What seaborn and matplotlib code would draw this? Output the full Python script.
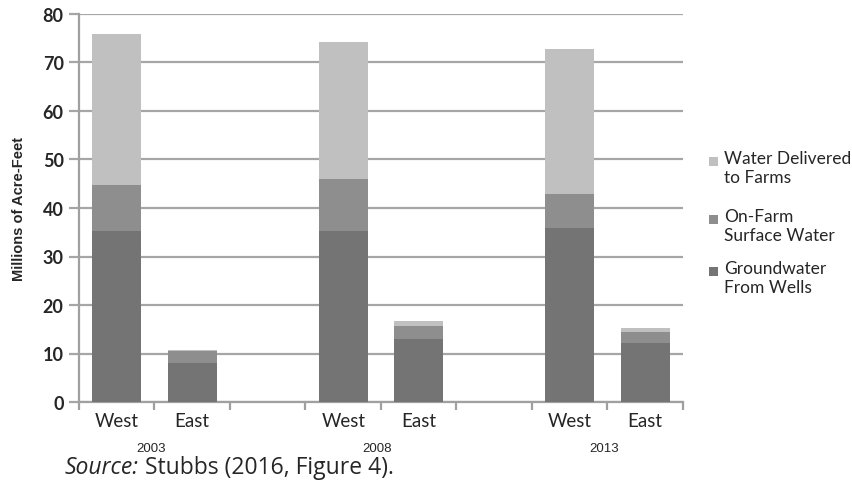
import numpy as np
import pandas as pd
import matplotlib
matplotlib.use("Agg")
import matplotlib.pyplot as plt
import matplotlib.transforms as mtransforms
from matplotlib.patches import Rectangle
import seaborn as sns

# Farm water use by source, millions of acre-feet
slots = ["W2003", "E2003", "gap1", "W2008", "E2008", "gap2", "W2013", "E2013"]
bar_slots = ["W2003", "E2003", "W2008", "E2008", "W2013", "E2013"]
regions = ["West", "East", "West", "East", "West", "East"]
years = ["2003", "2008", "2013"]
groundwater = [35.3, 8.0, 35.2, 13.0, 35.9, 12.2]
on_farm_surface = [9.4, 2.6, 10.8, 2.7, 7.0, 2.2]
delivered = [31.2, 0.2, 28.2, 0.9, 29.9, 0.8]

series_names = ["Water Delivered\nto Farms", "On-Farm\nSurface Water", "Groundwater\nFrom Wells"]
colors = ["#c0c0c0", "#8e8e8e", "#747474"]

df = pd.DataFrame({
    "slot": bar_slots,
    "ground": groundwater,
    "onfarm": on_farm_surface,
    "delivered": delivered,
})
df["lower_two"] = df["ground"] + df["onfarm"]
df["total"] = df["lower_two"] + df["delivered"]

sns.set_theme(style="white")
plt.rcParams["font.family"] = ["Lato", "DejaVu Sans"]

W, H = 853, 489
fig = plt.figure(figsize=(W / 100, H / 100), dpi=100)
ax = fig.add_axes([79 / W, 1 - 403 / H, 604 / W, 388 / H])

# stacked bars: draw cumulative heights from tallest to shortest
for col, c in zip(["total", "lower_two", "ground"], colors):
    sns.barplot(data=df, x="slot", y=col, order=slots, color=c,
                width=0.65, saturation=1, ax=ax, linewidth=0, zorder=3)

ax.set_ylim(0, 80)
ax.set_xlim(-0.5, len(slots) - 0.5)
ax.set_yticks(np.arange(0, 81, 10))
ax.yaxis.grid(True, color="#a6a6a6", linewidth=1.6, zorder=0)
ax.set_axisbelow(True)

for s in ["top", "right"]:
    ax.spines[s].set_visible(False)
for s in ["left", "bottom"]:
    ax.spines[s].set_color("#a0a0a0")
    ax.spines[s].set_linewidth(1.6)

ax.tick_params(axis="y", which="major", length=7, width=1.6, color="#a6a6a6",
               labelsize=13, pad=4, left=True)
for lab in ax.get_yticklabels():
    lab.set_fontweight("bold")

# category labels centred in slots, tick marks at slot boundaries
xlabels = ["West", "East", "", "West", "East", "", "West", "East"]
ax.set_xticks(range(len(slots)))
ax.set_xticklabels(xlabels, fontsize=13.5)
ax.tick_params(axis="x", which="major", length=0, pad=7)
ax.set_xticks(np.arange(-0.5, len(slots), 1), minor=True)
ax.tick_params(axis="x", which="minor", length=6, width=1.6, color="#a0a0a0", bottom=True)

ax.set_xlabel("")
ax.set_ylabel("Millions of Acre-Feet", fontsize=10.5, fontweight="bold",
              family=["Liberation Sans", "DejaVu Sans"], labelpad=12)

trans = mtransforms.blended_transform_factory(ax.transData, fig.transFigure)
for i, yr in enumerate(years):
    ax.text(3 * i + 0.45, 1 - 449 / H, yr, transform=trans, ha="center", va="center",
            fontsize=9.5, family=["Liberation Sans", "DejaVu Sans"])

# legend: square swatch beside the first line of each label
legend_rows = [160, 218, 270]
for name, c, yc in zip(series_names, colors, legend_rows):
    fig.patches.append(Rectangle((709 / W, 1 - (yc + 6.5) / H), 9 / W, 9 / H,
                                 transform=fig.transFigure, facecolor=c,
                                 edgecolor="none", figure=fig))
    fig.text(724 / W, 1 - (yc - 9) / H, name, fontsize=12.5, va="top", ha="left",
             linespacing=1.25)

# source note with italic lead-in
src = fig.text(65 / W, 1 - 468 / H, "Source:", style="italic", fontsize=16.5,
               family=["Open Sans", "DejaVu Sans"], va="center")
ax.annotate(" Stubbs (2016, Figure 4).", xy=(1, 0.5), xycoords=src, va="center",
            ha="left", fontsize=16.5, family=["Open Sans", "DejaVu Sans"],
            annotation_clip=False)

fig.savefig("out.png", dpi=100)
